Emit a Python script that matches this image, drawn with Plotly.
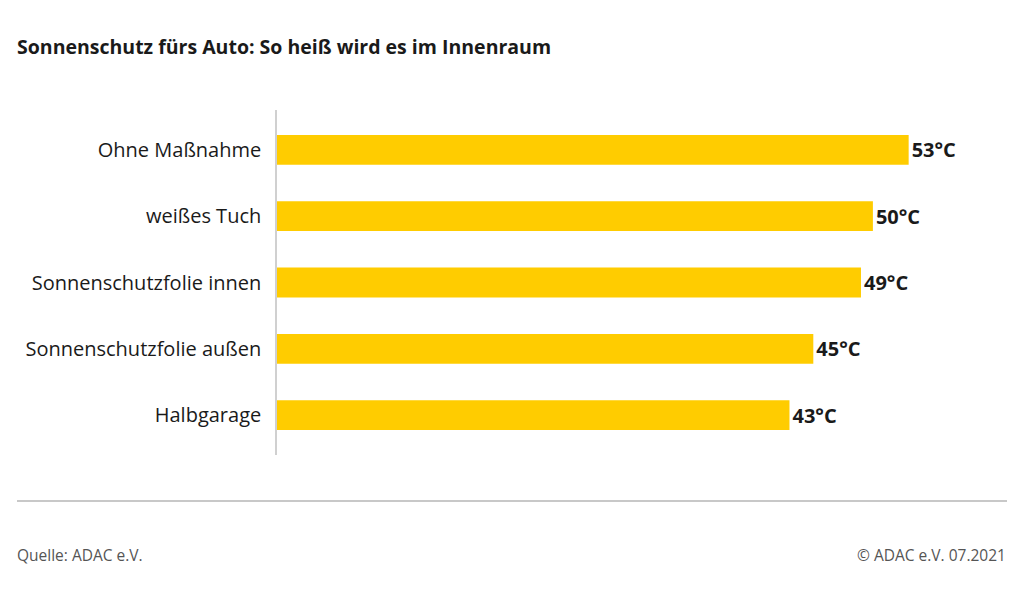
import plotly.graph_objects as go

categories = ["Ohne Maßnahme", "weißes Tuch", "Sonnenschutzfolie innen", "Sonnenschutzfolie außen", "Halbgarage"]
values = [53, 50, 49, 45, 43]
labels = [f"{v}°C" for v in values]

title = "Sonnenschutz fürs Auto: So heiß wird es im Innenraum"
source = "Quelle: ADAC e.V."
copyright_txt = "© ADAC e.V. 07.2021"

# page body has an 8px offset; figure coordinates = screen - 8
OFF = 8
L, T, B_SCREEN, R_SCREEN = 277, 110, 455, 1004
W, H = 1024 - OFF, 599 - OFF
plot_w = R_SCREEN - L
plot_h = B_SCREEN - T

def px_x(sx):
    return (sx - L) / plot_w

def px_y(sy):
    return (B_SCREEN - sy) / plot_h

fig = go.Figure(go.Bar(
    x=values, y=categories, orientation="h",
    marker=dict(color="#FFCC00", line=dict(width=0)),
    width=0.45,
    text=labels, textposition="outside", cliponaxis=False,
    textfont=dict(family="Open Sans", size=20, color="#1a1a1a", weight="bold"),
    hoverinfo="skip",
))

fig.update_layout(
    width=W, height=H,
    margin=dict(l=L - OFF, r=W - (R_SCREEN - OFF), t=T - OFF, b=H - (B_SCREEN - OFF)),
    paper_bgcolor="white", plot_bgcolor="white",
    showlegend=False,
    font=dict(family="Open Sans", color="#1a1a1a"),
    xaxis=dict(range=[0, 61], visible=False, fixedrange=True),
    yaxis=dict(
        categoryorder="array", categoryarray=categories[::-1],
        range=[-0.6, 4.6],
        showline=True, linecolor="#d0d0d0", linewidth=1.5,
        showgrid=False, zeroline=False, ticks="",
        ticklabelstandoff=10,
        tickfont=dict(family="Open Sans", size=20, color="#1a1a1a"),
    ),
    annotations=[
        dict(text=f"<b>{title}</b>", xref="paper", yref="paper", x=px_x(15), y=px_y(47),
             xanchor="left", yanchor="middle", showarrow=False,
             font=dict(family="Open Sans", size=19.5, color="#1a1a1a")),
        dict(text=source, xref="paper", yref="paper", x=px_x(15), y=px_y(555),
             xanchor="left", yanchor="middle", showarrow=False,
             font=dict(family="Open Sans", size=15.5, color="#555555")),
        dict(text=copyright_txt, xref="paper", yref="paper", x=px_x(1008), y=px_y(555),
             xanchor="right", yanchor="middle", showarrow=False,
             font=dict(family="Open Sans", size=15.5, color="#555555")),
    ],
    shapes=[
        dict(type="line", xref="paper", yref="paper",
             x0=px_x(17), x1=px_x(1007), y0=px_y(501), y1=px_y(501),
             line=dict(color="#c8c8c8", width=2)),
    ],
)

fig.write_html("out.html")
